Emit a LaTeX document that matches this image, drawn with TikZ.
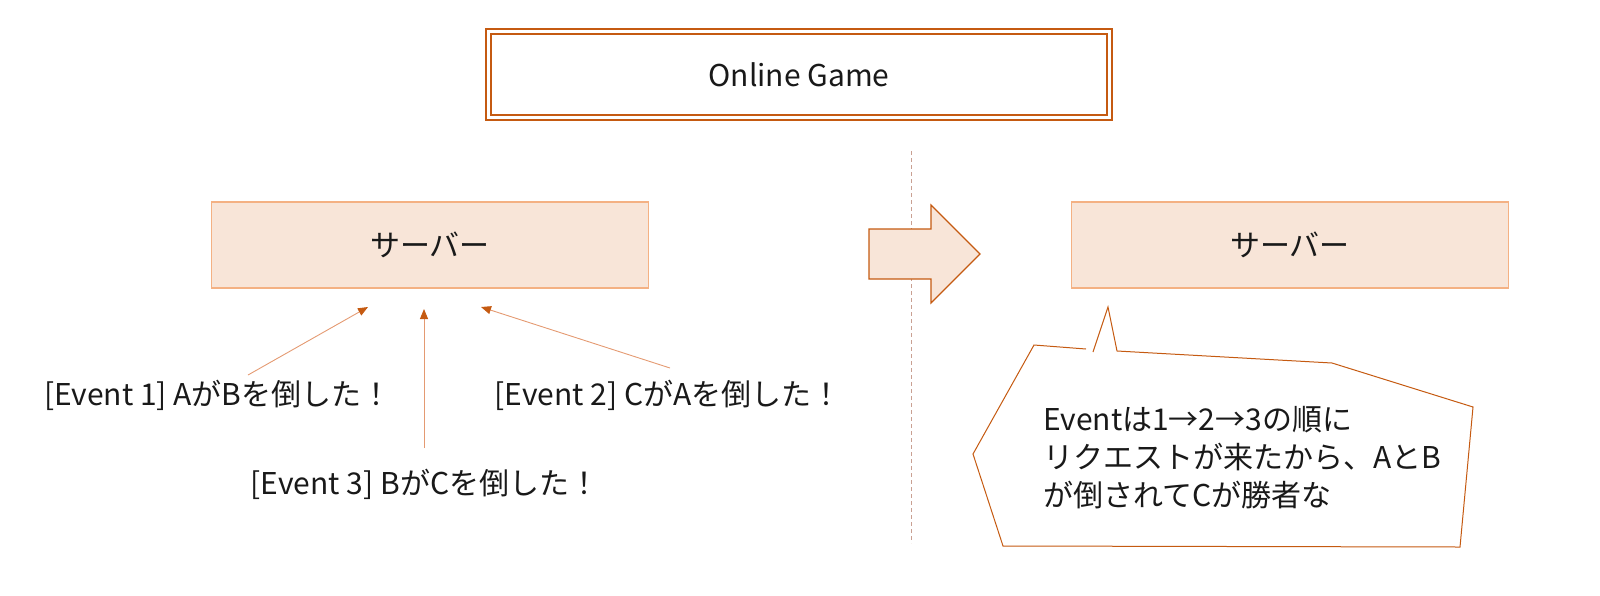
\documentclass[tikz,border=0pt]{standalone}
\usepackage{fontspec}
\setmainfont{Noto Sans CJK JP}
\usetikzlibrary{arrows.meta}
\definecolor{dkor}{HTML}{C55A11}
\definecolor{ltor}{HTML}{F4B183}
\definecolor{peach}{HTML}{F8E5D8}
\definecolor{lnor}{HTML}{E49A72}
\definecolor{dashcol}{HTML}{C9A092}
\begin{document}
\begin{tikzpicture}[x=1pt,y=-1pt,
  every node/.style={font=\fontsize{30}{36}\selectfont, text=black!90, inner sep=0pt},
  titlebox/.style={draw=dkor, double=white, double distance=2.5pt, line width=1.8pt, fill=white},
  serverbox/.style={draw=ltor, line width=1.2pt, fill=peach, minimum width=437pt, minimum height=86pt},
  evarrow/.style={draw=lnor, line width=0.9pt, -{Triangle[length=10pt,width=8pt,color=dkor,fill=dkor]}},
  bigarrow/.style={draw=dkor, line width=1.2pt, fill=peach, line join=miter},
  callout/.style={draw=dkor, line width=1pt, fill=white}]
\useasboundingbox (0,0) rectangle (1600,595);
% title
\node[titlebox, minimum width=621pt, minimum height=86pt] (title) at (799,74.5) {Online Game};
% dashed divider
\coordinate (dtop) at (911,151);
\coordinate (dbot) at (911,543);
\draw[dashcol, line width=0.8pt, dash pattern=on 4pt off 3pt] (dtop) -- (dbot);
% server boxes
\node[serverbox] (srvL) at (430,245) {サーバー};
\node[serverbox] (srvR) at (1290,245) {サーバー};
% block arrow
\draw[bigarrow] (869,229) -- (931,229) -- (931,205) -- (980,254) -- (931,303) -- (931,279) -- (869,279) -- cycle;
% event labels
\node (ev1) at (218,395) {[Event 1] AがBを倒した！};
\node (ev2) at (668,395) {[Event 2] CがAを倒した！};
\node (ev3) at (425,484) {[Event 3] BがCを倒した！};
\coordinate (a1s) at (248,375);
\coordinate (a1e) at (368,307);
\coordinate (a2s) at (670,368);
\coordinate (a2e) at (481,307);
\coordinate (a3s) at (424,448);
\coordinate (a3e) at (424,309);
\draw[evarrow] (a1s) -- (a1e);
\draw[evarrow] (a2s) -- (a2e);
\draw[evarrow] (a3s) -- (a3e);
% callout
\fill[white] (1093,352) -- (1108,307) -- (1117,351) -- (1332,363) -- (1473,407) -- (1460,547) -- (1003,546) -- (973,454) -- (1034,345) -- (1086,349) -- cycle;
\draw[callout, fill=none, line join=miter] (1093,352) -- (1108,307) -- (1117,351) -- (1332,363) -- (1473,407) -- (1460,547) -- (1003,546) -- (973,454) -- (1034,345) -- (1086,349);
\node[anchor=west, align=left, font=\fontsize{30}{38}\selectfont] (note) at (1043,458) {Eventは1→2→3の順に\\リクエストが来たから、AとB\\が倒されてCが勝者な};
\end{tikzpicture}
\end{document}
